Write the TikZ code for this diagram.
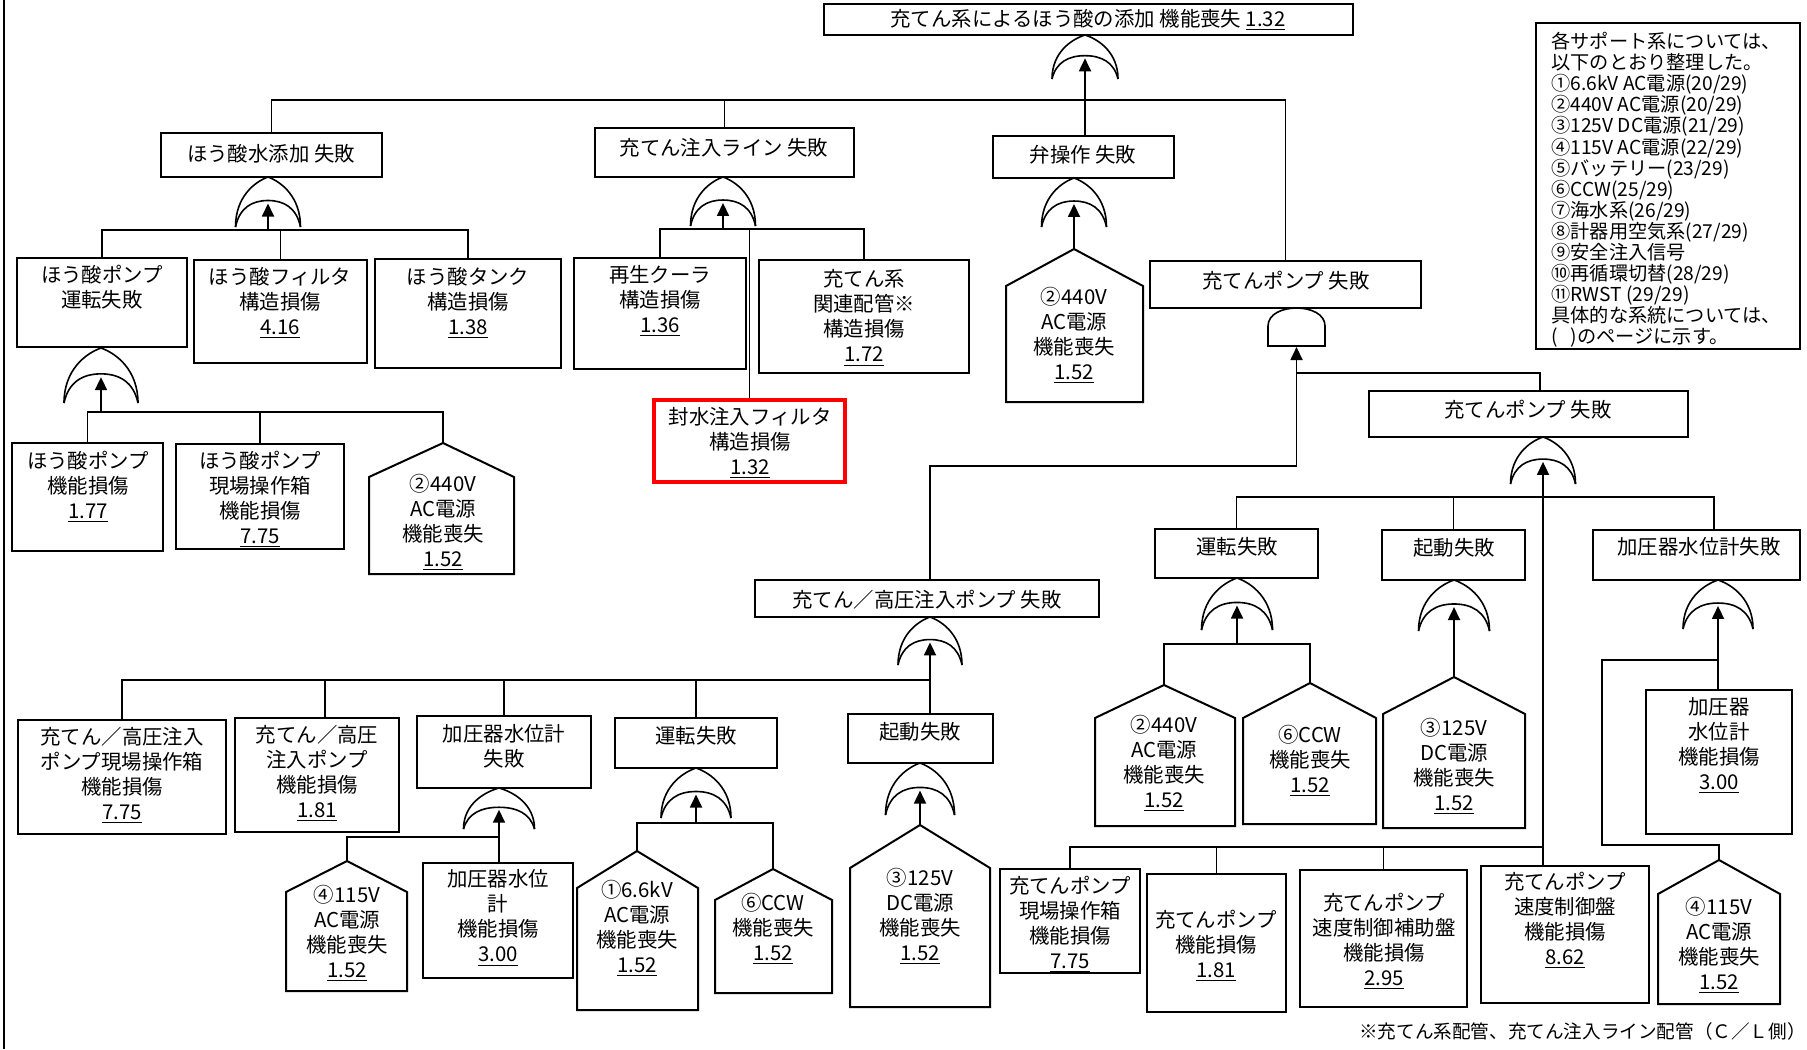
\documentclass[tikz,border=0pt]{standalone}
\usepackage{fontspec}
\setmainfont{Noto Sans CJK JP}
\usetikzlibrary{arrows.meta,fit}
\newcommand\ftbox[5]{\node[boxsty, fit={(#2,#3) (#4,#5)}] (#1) {};}
\newcommand\fthouse[7]{\draw[shp] (#2,#7) -- (#2,#6) -- (#4,#5) -- (#3,#6) -- (#3,#7) -- cycle; \coordinate (#1) at (#4,#5);}
\newcommand\ftor[5]{%
  \pgfmathsetmacro\ftgh{#4-#3}%
  \draw[gsty] ({#2-#5},#4) .. controls ({#2-#5},{#4-0.6*\ftgh}) and ({#2-0.42*#5},{#3+0.1*\ftgh}) .. (#2,#3)
     .. controls ({#2+0.42*#5},{#3+0.1*\ftgh}) and ({#2+#5},{#4-0.6*\ftgh}) .. ({#2+#5},#4);
  \draw[gsty] ({#2-#5},#4) .. controls ({#2-0.88*#5},{#4-0.38*\ftgh}) and ({#2-0.5*#5},{#4-0.53*\ftgh}) .. (#2,{#4-0.53*\ftgh})
     .. controls ({#2+0.5*#5},{#4-0.53*\ftgh}) and ({#2+0.88*#5},{#4-0.38*\ftgh}) .. ({#2+#5},#4);
  \coordinate (#1) at (#2,{#4-0.47*\ftgh});
}
\begin{document}
\begin{tikzpicture}[x=0.5pt,y=-0.5pt,
  boxsty/.style={draw, line width=1pt, inner sep=0pt, rectangle},
  redsty/.style={draw=red, line width=2pt, inner sep=0pt, rectangle},
  shp/.style={draw, line width=1pt, line join=miter},
  gsty/.style={draw, line width=0.8pt},
  con/.style={line width=0.9pt},
  arr/.style={line width=0.9pt, -{Triangle[length=6.5pt,width=6pt]}},
  txt/.style={align=center, font=\fontsize{10.2pt}{12.5pt}\selectfont, inner sep=0pt},
]
\useasboundingbox (0,0) rectangle (1807,1049);
\fill[white] (0,0) rectangle (1807,1049);
\draw[line width=0.8pt] (4,0) -- (4,1049);

% root
\ftbox{root}{824}{4}{1353}{35}
\node[txt] (root-t) at (1088,20) {充てん系によるほう酸の添加 機能喪失 \underline{1.32}};
\ftor{g0}{1085}{35}{79}{33}
\coordinate (g0b) at (1085,100);

% legend
\ftbox{legend}{1536}{23}{1800}{349}
\node[anchor=west, align=left, font=\fontsize{9.6pt}{10.55pt}\selectfont, inner sep=0pt] (legend-t) at (1551,190) {各サポート系については、\\以下のとおり整理した。\\①6.6kV AC電源(20/29)\\②440V AC電源(20/29)\\③125V DC電源(21/29)\\④115V AC電源(22/29)\\⑤バッテリー(23/29)\\⑥CCW(25/29)\\⑦海水系(26/29)\\⑧計器用空気系(27/29)\\⑨安全注入信号\\⑩再循環切替(28/29)\\⑪RWST (29/29)\\具体的な系統については、\\(\ \ \ )のページに示す。};

% level 2
\ftbox{hsa}{161}{133}{382}{177}
\node[txt] (hsa-t) at (271,154) {ほう酸水添加 失敗};
\ftbox{cil}{595}{128}{854}{177}
\node[txt] (cil-t) at (724,148) {充てん注入ライン 失敗};
\ftbox{ben}{993}{136}{1174}{178}
\node[txt] (ben-t) at (1083,155) {弁操作 失敗};
\ftbox{cp1}{1150}{261}{1421}{308}
\node[txt] (cp1-t) at (1286,281) {充てんポンプ 失敗};

\draw[con] (hsa.north) |- (g0b);
\draw[con] (cp1.north) |- (g0b);
\draw[con] (cil.north) -- (cil.north |- g0b);
\draw[arr] (ben.north -| g0b) -- (g0);

% hosan gate
\ftor{g1}{268}{177}{227}{32.5}
\coordinate (g1b) at (268,230);
\ftbox{hpf}{17}{258}{187}{347}
\node[txt] (hpf-t) at (102,287) {ほう酸ポンプ\\運転失敗};
\ftbox{hfl}{194}{260}{367}{363}
\node[txt] (hfl-t) at (280,303) {ほう酸フィルタ\\構造損傷\\\underline{4.16}};
\ftbox{htk}{375}{259}{561}{368}
\node[txt] (htk-t) at (468,303) {ほう酸タンク\\構造損傷\\\underline{1.38}};
\draw[con] (hpf.north) |- (g1b) -| (htk.north);
\draw[con] (hfl.north) -- (hfl.north |- g1b);
\draw[arr] (g1b) -- (g1);

% injection line gate
\ftor{g2}{723}{177}{226}{32.5}
\coordinate (g2b) at (723,229);
\ftbox{sck}{574}{258}{746}{369}
\node[txt] (sck-t) at (660,301) {再生クーラ\\構造損傷\\\underline{1.36}};
\ftbox{kpp}{759}{260}{969}{373}
\node[txt] (kpp-t) at (864,318) {充てん系\\関連配管※\\構造損傷\\\underline{1.72}};
\node[redsty, fit={(654,400) (845,482)}] (fsf) {};
\node[txt] (fsf-t) at (750,443) {封水注入フィルタ\\構造損傷\\\underline{1.32}};
\draw[con] (sck.north) |- (g2b) -| (kpp.north);
\draw[con] (fsf.north) -- (fsf.north |- g2b);
\draw[arr] (g2b) -- (g2);

% valve gate
\ftor{g3}{1074}{178}{227}{32.5}
\fthouse{h440a}{1006}{1143}{1074}{249}{286}{402}
\node[txt] (h440a-t) at (1074,335) {②440V\\AC電源\\機能喪失\\\underline{1.52}};
\draw[arr] (h440a) -- (g3);

% boric pump gate
\ftor{g4}{101}{348}{403}{37}
\coordinate (g4b) at (101,412);
\ftbox{hpk}{12}{443}{163}{551}
\node[txt] (hpk-t) at (88,487) {ほう酸ポンプ\\機能損傷\\\underline{1.77}};
\ftbox{hpg}{176}{444}{344}{549}
\node[txt] (hpg-t) at (260,499) {ほう酸ポンプ\\現場操作箱\\機能損傷\\\underline{7.75}};
\fthouse{h440b}{369}{514}{443}{443}{477}{574}
\node[txt] (h440b-t) at (443,522) {②440V\\AC電源\\機能喪失\\\underline{1.52}};
\draw[con] (hpk.north) |- (g4b) -| (h440b);
\draw[con] (hpg.north) -- (hpg.north |- g4b);
\draw[arr] (g4b) -- (g4);

% AND gate
\draw[gsty] (1268,346) -- (1268,326) .. controls (1268,302) and (1325,302) .. (1325,326) -- (1325,346) -- cycle;
\coordinate (g5) at (1296.5,347);
\coordinate (g5j) at (1296.5,373);
\coordinate (g5b) at (1296.5,466);
\ftbox{cp2}{1369}{391}{1688}{437}
\node[txt] (cp2-t) at (1528,410) {充てんポンプ 失敗};
\coordinate (cp2c) at (1540,391);
\draw[con] (g5j) -| (cp2c);
\ftbox{tkp}{755}{580}{1099}{617}
\node[txt] (tkp-t) at (927,600) {充てん／高圧注入ポンプ 失敗};
\ftor{g6}{930}{617}{665}{32}
\coordinate (g6b) at (930,680);
\draw[con] (g5b) -| (tkp.north -| g6);
\draw[arr] (g5b) -- (g5);

% charging pump gate (right)
\ftor{g7}{1543}{437}{484}{32.5}
\coordinate (g7b) at (1543,497);
\coordinate (g7c) at (1543,847);
\ftbox{unR}{1155}{529}{1318}{578}
\node[txt] (unR-t) at (1237,547) {運転失敗};
\ftbox{kdR}{1382}{530}{1525}{580}
\node[txt] (kdR-t) at (1454,548) {起動失敗};
\ftbox{kaR}{1593}{530}{1800}{580}
\node[txt] (kaR-t) at (1699,547) {加圧器水位計失敗};
\coordinate (kaRc) at (1714,530);
\draw[con] (unR.north) |- (g7b) -| (kaRc);
\draw[con] (kdR.north) -- (kdR.north |- g7b);
\ftbox{sdb}{1481}{866}{1649}{1003}
\node[txt] (sdb-t) at (1565,920) {充てんポンプ\\速度制御盤\\機能損傷\\\underline{8.62}};
\draw[arr] (sdb.north -| g7) -- (g7);
\ftbox{pgb}{1000}{869}{1140}{973}
\node[txt] (pgb-t) at (1070,924) {充てんポンプ\\現場操作箱\\機能損傷\\\underline{7.75}};
\ftbox{pkd}{1147}{874}{1286}{1012}
\node[txt] (pkd-t) at (1216,946) {充てんポンプ\\機能損傷\\\underline{1.81}};
\ftbox{sdh}{1300}{870}{1467}{1007}
\node[txt] (sdh-t) at (1384,941) {充てんポンプ\\速度制御補助盤\\機能損傷\\\underline{2.95}};
\draw[con] (pgb.north) |- (g7c);
\draw[con] (pkd.north) -- (pkd.north |- g7c);
\draw[con] (sdh.north) -- (sdh.north |- g7c);

% run failure (right)
\ftor{g8}{1237}{578}{630}{35.5}
\coordinate (g8b) at (1237,644);
\fthouse{h440c}{1095}{1235}{1164}{685}{718}{826}
\node[txt] (h440c-t) at (1164,763) {②440V\\AC電源\\機能喪失\\\underline{1.52}};
\fthouse{hccwR}{1243}{1376}{1310}{683}{718}{824}
\node[txt] (hccwR-t) at (1310,761) {⑥CCW\\機能喪失\\\underline{1.52}};
\draw[con] (h440c) |- (g8b) -| (hccwR);
\draw[arr] (g8b) -- (g8);

% start failure (right)
\ftor{g9}{1454}{580}{631}{35.5}
\fthouse{h125R}{1383}{1525}{1454}{677}{714}{828}
\node[txt] (h125R-t) at (1454,766) {③125V\\DC電源\\機能喪失\\\underline{1.52}};
\draw[arr] (h125R) -- (g9);

% pressurizer level (right)
\ftor{g10}{1718}{580}{629}{35}
\coordinate (g10b) at (1718,660);
\coordinate (g10l) at (1602,845);
\ftbox{kpkR}{1646}{690}{1792}{834}
\node[txt] (kpkR-t) at (1719,746) {加圧器\\水位計\\機能損傷\\\underline{3.00}};
\fthouse{h115R}{1658}{1780}{1719}{860}{894}{1004}
\node[txt] (h115R-t) at (1719,945) {④115V\\AC電源\\機能喪失\\\underline{1.52}};
\draw[con] (g10b) -| (g10l) -| (h115R);
\draw[arr] (kpkR.north -| g10) -- (g10);

% charging / HPI pump children
\ftbox{b1}{18}{720}{226}{834}
\node[txt] (b1-t) at (122,775) {充てん／高圧注入\\ポンプ現場操作箱\\機能損傷\\\underline{7.75}};
\ftbox{b2}{235}{718}{399}{832}
\node[txt] (b2-t) at (317,773) {充てん／高圧\\注入ポンプ\\機能損傷\\\underline{1.81}};
\ftbox{kaL}{417}{716}{591}{788}
\node[txt] (kaL-t) at (504,746) {加圧器水位計\\失敗};
\ftbox{unL}{615}{718}{777}{768}
\node[txt] (unL-t) at (696,736) {運転失敗};
\ftbox{kdL}{848}{714}{993}{763}
\node[txt] (kdL-t) at (920,732) {起動失敗};
\draw[con] (b1.north) |- (g6b);
\draw[con] ([xshift=4pt]b2.north) -- ([xshift=4pt]b2.north |- g6b);
\draw[con] (kaL.north) -- (kaL.north |- g6b);
\draw[con] (unL.north) -- (unL.north |- g6b);
\draw[arr] (kdL.north -| g6b) -- (g6);

% pressurizer level (left)
\ftor{g11}{499}{788}{829}{35.5}
\coordinate (g11b) at (499,837);
\fthouse{h115L}{286}{407}{347}{861}{892}{991}
\node[txt] (h115L-t) at (347,933) {④115V\\AC電源\\機能喪失\\\underline{1.52}};
\ftbox{kpkL}{423}{863}{573}{978}
\node[txt] (kpkL-t) at (498,918) {加圧器水位\\計\\機能損傷\\\underline{3.00}};
\draw[con] (h115L) |- (g11b);
\draw[arr] (kpkL.north -| g11) -- (g11);

% run failure (left)
\ftor{g12}{696}{768}{818}{35}
\coordinate (g12b) at (696,823);
\fthouse{h66}{577}{698}{637}{851}{888}{1010}
\node[txt] (h66-t) at (637,928) {①6.6kV\\AC電源\\機能喪失\\\underline{1.52}};
\fthouse{hccwL}{715}{832}{773}{869}{900}{993}
\node[txt] (hccwL-t) at (773,929) {⑥CCW\\機能喪失\\\underline{1.52}};
\draw[con] (h66) |- (g12b) -| (hccwL);
\draw[arr] (g12b) -- (g12);

% start failure (left)
\ftor{g13}{920}{763}{815}{34.5}
\fthouse{h125L}{850}{990}{920}{825}{868}{1007}
\node[txt] (h125L-t) at (920,916) {③125V\\DC電源\\機能喪失\\\underline{1.52}};
\draw[arr] (h125L) -- (g13);

% footnote
\node[anchor=east, font=\fontsize{9.3pt}{11pt}\selectfont, inner sep=0pt] (note) at (1806,1031) {※充てん系配管、充てん注入ライン配管（Ｃ／Ｌ側）};
\end{tikzpicture}
\end{document}
